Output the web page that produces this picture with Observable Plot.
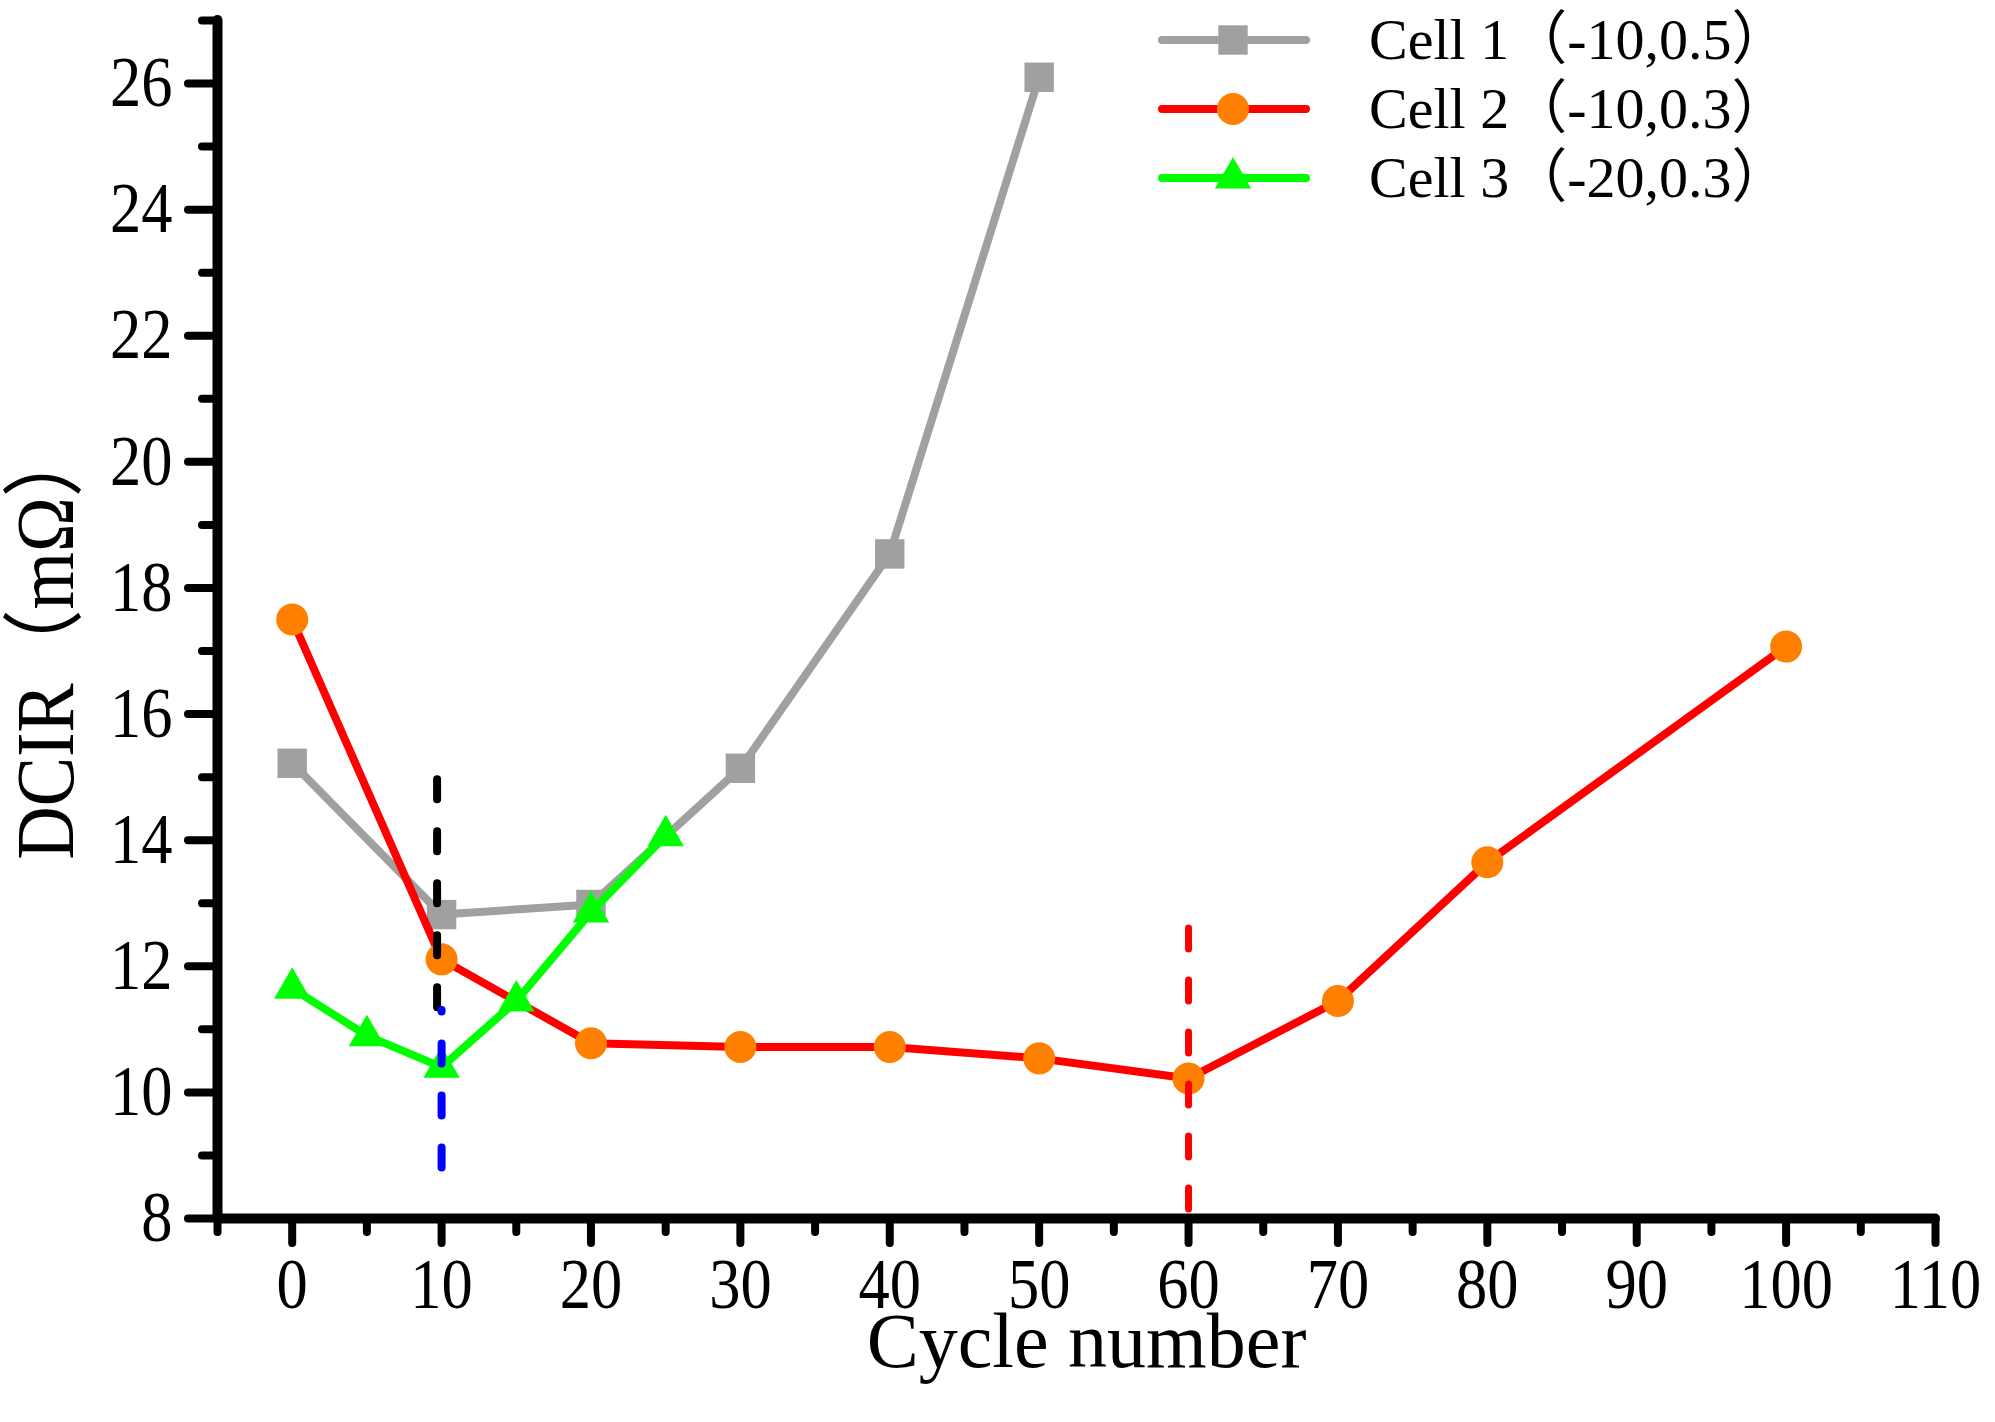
<!DOCTYPE html>
<html>
<head>
<meta charset="utf-8">
<script src="https://cdn.jsdelivr.net/npm/d3@7"></script>
<script src="https://cdn.jsdelivr.net/npm/@observablehq/plot@0.6"></script>
<style>
  body { margin: 0; background: #ffffff; }
  #chart svg { display: block; }
</style>
</head>
<body>
<div id="chart"></div>
<script>
// values: cycle number vs DCIR (mΩ)
let cell1Cycles = [0, 10, 20, 30, 40, 50];
let cell1Dcir = [15.22, 12.82, 12.98, 15.14, 18.54, 26.1];

let cell2Cycles = [0, 10, 20, 30, 40, 50, 60, 70, 80, 100];
let cell2Dcir = [17.5, 12.11, 10.78, 10.72, 10.72, 10.54, 10.22, 11.45, 13.65, 17.07];

let cell3Cycles = [0, 5, 10, 15, 20, 25];
let cell3Dcir = [11.65, 10.9, 10.4, 11.45, 12.86, 14.07];

let cellNames = ["Cell 1（-10,0.5）", "Cell 2（-10,0.3）", "Cell 3（-20,0.3）"];

// dashed guide lines (x, from, to)
let guideX = [9.7, 10, 60];
let guideFrom = [14.96, 8.8, 12.6];
let guideTo = [11.33, 11.3, 8];
let guideColor = ["#000000", "#0000ff", "#ff0000"];

let xMajorTicks = d3.range(0, 111, 10);
let xMinorTicks = d3.range(-5, 110, 10);
let yMajorTicks = d3.range(8, 27, 2);
let yMinorTicks = d3.range(9, 28, 2);

let wChart = 1995;
let hChart = 1422;
let font = "'Liberation Serif', 'Times New Roman', 'Noto Sans CJK SC', serif";

let toRows = (cycles, values) => cycles.map((c, i) => ({cycle: c, dcir: values[i]}));
let cell1 = toRows(cell1Cycles, cell1Dcir);
let cell2 = toRows(cell2Cycles, cell2Dcir);
let cell3 = toRows(cell3Cycles, cell3Dcir);
let guides = guideX.map((x, i) => ({x: x, from: guideFrom[i], to: guideTo[i], color: guideColor[i]}));

let series = [
  {name: cellNames[0], line: "#a0a0a0", fill: "#a0a0a0", symbol: "square", r: 16.6},
  {name: cellNames[1], line: "#ff0000", fill: "#ff8000", symbol: "circle", r: 16},
  {name: cellNames[2], line: "#00ff00", fill: "#00ff00", symbol: "triangle", r: 13.5}
];

let axisStyle = {strokeWidth: 8, strokeLinecap: "round", label: null};

let chart = Plot.plot({
  width: wChart,
  height: hChart,
  marginLeft: 217,
  marginRight: 60,
  marginTop: 20,
  marginBottom: 204,
  x: {domain: [-5, 110]},
  y: {domain: [8, 27]},
  style: {
    fontFamily: font,
    fontSize: "66px",
    color: "#000000",
    backgroundColor: "#ffffff"
  },
  marks: [
    // axes
    Plot.axisX({...axisStyle, ticks: xMajorTicks, tickSize: 25, tickPadding: 14, fontSize: 71}),
    Plot.axisX({...axisStyle, ticks: xMinorTicks, tickSize: 14, tickFormat: () => ""}),
    Plot.axisY({...axisStyle, ticks: yMajorTicks, tickSize: 29, tickPadding: 16, fontSize: 71}),
    Plot.axisY({...axisStyle, ticks: yMinorTicks, tickSize: 15, tickFormat: () => ""}),
    Plot.ruleY([8], {strokeWidth: 10, strokeLinecap: "round"}),
    Plot.ruleX([-5], {strokeWidth: 10, strokeLinecap: "round"}),
    Plot.text(["Cycle number"], {frameAnchor: "bottom", dx: 10, dy: 124, fontSize: 78, lineAnchor: "middle"}),
    Plot.text(["DCIR（mΩ）"], {frameAnchor: "left", textAnchor: "middle", dx: -171, dy: 22, rotate: -90, fontSize: 82, lineAnchor: "middle"}),

    // series
    Plot.line(cell1, {x: "cycle", y: "dcir", stroke: series[0].line, strokeWidth: 8}),
    Plot.dot(cell1, {x: "cycle", y: "dcir", symbol: "square", r: series[0].r, fill: series[0].fill}),
    Plot.line(cell2, {x: "cycle", y: "dcir", stroke: series[1].line, strokeWidth: 8}),
    Plot.dot(cell2, {x: "cycle", y: "dcir", symbol: "circle", r: series[1].r, fill: series[1].fill}),
    Plot.line(cell3, {x: "cycle", y: "dcir", stroke: series[2].line, strokeWidth: 8}),
    Plot.dot(cell3, {x: "cycle", y: "dcir", symbol: "triangle", r: series[2].r, fill: series[2].fill}),

    // dashed guides
    Plot.ruleX(guides.slice(0, 2), {x: "x", y1: "from", y2: "to", stroke: "color", strokeWidth: 8, strokeDasharray: "20,32", strokeLinecap: "round"}),
    Plot.ruleX(guides.slice(2), {x: "x", y1: "from", y2: "to", stroke: "color", strokeWidth: 7, strokeDasharray: "21,31", strokeLinecap: "round"})
  ]
});

// the figure's lettering is narrow: squeeze tick labels and the y title along the text
let squeeze = (sel, k) => sel.each(function () {
  let t = d3.select(this);
  t.attr("transform", (t.attr("transform") || "") + ` scale(${k},1)`);
});
squeeze(d3.select(chart).selectAll("g[aria-label='x-axis tick label'] text, g[aria-label='y-axis tick label'] text"), 0.88);
squeeze(d3.select(chart).selectAll("text").filter(function () { return this.textContent === "DCIR（mΩ）"; }), 0.9);

// legend, top right inside the frame
let legend = d3.select(chart).append("g")
  .attr("font-family", font)
  .attr("font-size", 58)
  .attr("text-anchor", "start");

let legendRows = legend.selectAll("g")
  .data(series)
  .join("g")
  .attr("transform", (d, i) => `translate(1162,${40 + i * 69})`);

legendRows.append("line")
  .attr("x1", 0).attr("x2", 144)
  .attr("stroke", d => d.line)
  .attr("stroke-width", 8)
  .attr("stroke-linecap", "round");

let symbols = {square: d3.symbolSquare, circle: d3.symbolCircle, triangle: d3.symbolTriangle};
legendRows.append("path")
  .attr("transform", "translate(71,0)")
  .attr("fill", d => d.fill)
  .attr("d", d => d3.symbol(symbols[d.symbol], d.r * d.r * Math.PI)());

legendRows.append("text")
  .attr("x", 207)
  .attr("dy", "0.33em")
  .attr("fill", "#000000")
  .attr("text-anchor", "start")
  .text(d => d.name);

d3.select("#chart").append(() => chart);
</script>
</body>
</html>
